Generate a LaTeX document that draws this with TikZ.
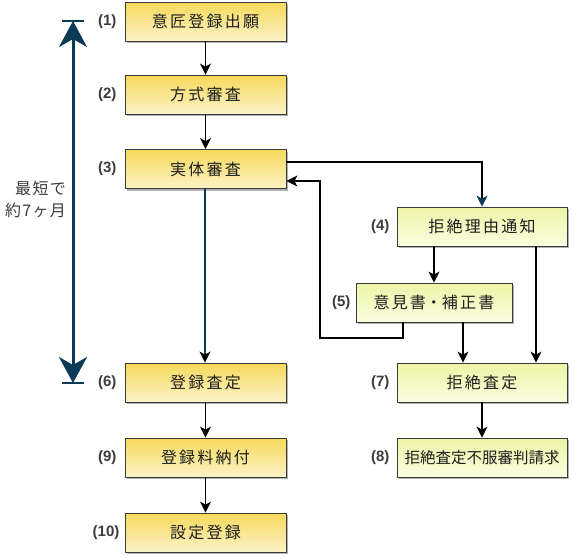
\documentclass[tikz,border=0pt]{standalone}
\usepackage{fontspec}
\setmainfont{Noto Sans CJK JP}
\newfontfamily\boxfont[LetterSpace=14]{Noto Sans CJK JP}
\newfontfamily\sidefont[LetterSpace=8]{Noto Sans CJK JP}
\newfontfamily\numfont{Liberation Sans}
\usetikzlibrary{arrows.meta,shadows}
\definecolor{mainTop}{HTML}{F6D95A}
\definecolor{mainBot}{HTML}{FBF3C8}
\definecolor{sideTop}{HTML}{EDF4A6}
\definecolor{sideBot}{HTML}{FAFDDF}
\definecolor{boxline}{HTML}{3A3A3A}
\definecolor{textgray}{HTML}{1E1E1E}
\definecolor{numgray}{HTML}{3C3C3C}
\definecolor{spanblue}{HTML}{0B3A56}
\begin{document}
\begin{tikzpicture}[x=1pt, y=1pt,
        stepbox/.style={draw=boxline, line width=0.8pt, minimum height=39pt, text=textgray,
            font=\boxfont\fontsize{16}{18}\selectfont,
            drop shadow={shadow xshift=2pt, shadow yshift=-2pt, fill=black, opacity=0.3}},
        mainbox/.style={stepbox, minimum width=161pt, top color=mainTop, bottom color=mainBot},
        sidebox/.style={stepbox, minimum width=170pt, top color=sideTop, bottom color=sideBot},
        num/.style={anchor=east, inner sep=1pt, text=numgray, font=\numfont\bfseries\fontsize{15}{18}\selectfont},
        arrow/.style={-{Stealth[length=11pt, width=11pt, inset=3pt]}, line width=1.4pt},
        bluearrow/.style={line width=2pt, draw=spanblue, -{Stealth[length=11pt, width=11pt, inset=3pt, black]}},
        span/.style={{Stealth[length=26pt, width=28pt, inset=8pt]}-{Stealth[length=26pt, width=28pt, inset=8pt]}, line width=3pt, spanblue},
        tick/.style={line width=1.6pt, spanblue}
    ]
        \useasboundingbox (0,0) rectangle (572,-558);

        % === Main flow ===
        \node[mainbox] (b1) at (205.5,-21.5) {意匠登録出願};
        \node[mainbox] (b2) at (205.5,-94.5) {方式審査};
        \node[mainbox] (b3) at (205.5,-169) {実体審査};
        \node[mainbox] (b6) at (205.5,-382.5) {登録査定};
        \node[mainbox] (b9) at (205.5,-457.5) {登録料納付};
        \node[mainbox] (b10) at (205.5,-532.5) {設定登録};

        % === Refusal branch ===
        \node[sidebox] (b4) at (482,-226.5) {拒絶理由通知};
        \node[sidebox, minimum width=156pt] (b5) at (434,-302.5) {意見書{\rmfamily ・}補正書};
        \node[sidebox] (b7) at (482,-382.5) {拒絶査定};
        \node[sidebox, font=\rmfamily\fontsize{15.5}{18}\selectfont] (b8) at (482,-457.5) {拒絶査定不服審判請求};

        % === Step numbers ===
        \node[num] (n1) at ([xshift=-7pt]b1.west) {(1)};
        \node[num] (n2) at ([xshift=-7pt]b2.west) {(2)};
        \node[num] (n3) at ([xshift=-7pt]b3.west) {(3)};
        \node[num] (n6) at ([xshift=-7pt]b6.west) {(6)};
        \node[num] (n9) at ([xshift=-7pt]b9.west) {(9)};
        \node[num] (n10) at ([xshift=-4pt]b10.west) {(10)};
        \node[num] (n4) at ([xshift=-6pt]b4.west) {(4)};
        \node[num] (n5) at ([xshift=-4pt]b5.west) {(5)};
        \node[num] (n7) at ([xshift=-6pt]b7.west) {(7)};
        \node[num] (n8) at ([xshift=-6pt]b8.west) {(8)};

        % === Connectors ===
        \draw[arrow] (b1) -- (b2);
        \draw[arrow] (b2) -- (b3);
        \draw[arrow, -{Stealth[length=11pt, width=11pt, inset=3pt, spanblue]}] ([yshift=7pt]b3.east) -| (b4.north);
        \draw[bluearrow] ([xshift=-0.5pt]b3.south) -- ([xshift=-0.5pt]b6.north);
        \draw[arrow] (b4.south -| b5.north) -- (b5.north);
        \draw[arrow] ([xshift=54pt]b4.south) -- ([xshift=54pt]b7.north);
        \draw[arrow] ([xshift=29pt]b5.south) -- ([xshift=-19pt]b7.north);
        \coordinate (back) at (320,-338);
        \draw[arrow] ([xshift=-31pt]b5.south) |- (back) |- ([yshift=-12pt]b3.east);
        \draw[arrow] (b7) -- (b8);
        \draw[arrow] (b6) -- (b9);
        \draw[arrow] (b9) -- (b10);

        % === Period span ===
        \coordinate (top) at (73,-21);
        \coordinate (bot) at (73,-383);
        \draw[tick] ([xshift=-11pt]top) -- ([xshift=11pt]top);
        \draw[tick] ([xshift=-11pt]bot) -- ([xshift=11pt]bot);
        \draw[span] (bot) -- (top);
        \node[anchor=east, align=right, inner sep=0pt, text=numgray, font=\sidefont\fontsize{16}{22}\selectfont] (period) at (66,-199) {最短で\\約7ヶ月};
    \end{tikzpicture}
\end{document}
